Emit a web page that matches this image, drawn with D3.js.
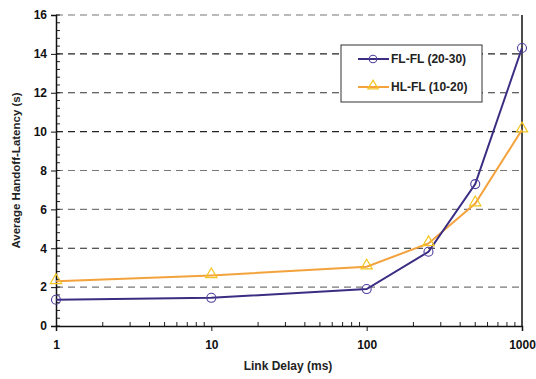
<!DOCTYPE html>
<html>
<head>
<meta charset="utf-8">
<script src="https://cdnjs.cloudflare.com/ajax/libs/d3/7.8.5/d3.min.js"></script>
<style>
  body { margin: 0; background: #fff; }
  text { font-family: "Liberation Sans", Arial, sans-serif; font-weight: bold; }
</style>
</head>
<body>
<svg id="chart" width="536" height="379"></svg>
<script>
var delays = [1, 10, 100, 250, 500, 1000];
var flfl = [1.35, 1.45, 1.9, 3.82, 7.3, 14.3];
var hlfl = [2.3, 2.6, 3.05, 4.25, 6.3, 10.1];
var seriesNames = ['FL-FL (20-30)', 'HL-FL (10-20)'];
var yTicks = [0, 2, 4, 6, 8, 10, 12, 14, 16];
var xTicks = [1, 10, 100, 1000];

var plotLeft = 56, plotRight = 522, plotTop = 15, plotBottom = 326;
var svg = d3.select('#chart');

var x = d3.scaleLog().domain([1, 1000]).range([plotLeft, plotRight]);
var y = d3.scaleLinear().domain([0, 16]).range([plotBottom, plotTop]);

// grid lines
var gridColor = { 16: '#777', 14: '#222', 12: '#333', 10: '#222', 8: '#777', 6: '#777', 4: '#222', 2: '#777' };
svg.append('g').selectAll('line')
    .data(yTicks.filter(function(d) { return d > 0; }))
    .join('line')
    .attr('x1', plotLeft).attr('x2', plotRight)
    .attr('y1', function(d) { return y(d); })
    .attr('y2', function(d) { return y(d); })
    .attr('stroke', function(d) { return gridColor[d]; })
    .attr('stroke-width', 1.2)
    .attr('stroke-dasharray', '7,5');

// y minor ticks (inward)
var yMinor = d3.range(0, 16.01, 0.4);
svg.append('g').selectAll('line')
    .data(yMinor)
    .join('line')
    .attr('x1', plotLeft).attr('x2', plotLeft + 4)
    .attr('y1', function(d) { return y(d); })
    .attr('y2', function(d) { return y(d); })
    .attr('stroke', '#222');

// x minor ticks (inward)
var xMinor = [];
[1, 10, 100].forEach(function(b) {
    for (var k = 2; k <= 9; k++) xMinor.push(b * k);
});
svg.append('g').selectAll('line')
    .data(xMinor)
    .join('line')
    .attr('x1', function(d) { return x(d); })
    .attr('x2', function(d) { return x(d); })
    .attr('y1', plotBottom).attr('y2', plotBottom - 4)
    .attr('stroke', '#222');

// axes
svg.append('g')
    .attr('transform', 'translate(' + plotLeft + ',0)')
    .call(d3.axisLeft(y).tickValues(yTicks).tickSize(5).tickPadding(4).tickFormat(d3.format('d')))
    .call(function(g) {
        g.select('.domain').attr('stroke', '#111').attr('stroke-width', 1.5);
        g.selectAll('.tick line').attr('stroke', '#111');
        g.selectAll('text').attr('font-size', 12).attr('fill', '#111')
            .style('font-family', '"Liberation Sans", Arial, sans-serif').style('font-weight', 'bold');
    });

svg.append('g')
    .attr('transform', 'translate(0,' + plotBottom + ')')
    .call(d3.axisBottom(x).tickValues(xTicks).tickSize(5).tickPadding(9).tickFormat(d3.format('d')))
    .call(function(g) {
        g.select('.domain').attr('stroke', '#111').attr('stroke-width', 1.5);
        g.selectAll('.tick line').attr('stroke', '#111');
        g.selectAll('text').attr('font-size', 12).attr('fill', '#111')
            .style('font-family', '"Liberation Sans", Arial, sans-serif').style('font-weight', 'bold');
    });

// right border
svg.append('line')
    .attr('x1', plotRight).attr('x2', plotRight)
    .attr('y1', plotTop).attr('y2', plotBottom)
    .attr('stroke', '#111').attr('stroke-width', 1.5);

// axis titles
svg.append('text')
    .attr('transform', 'translate(20,' + ((plotTop + plotBottom) / 2) + ') rotate(-90)')
    .attr('text-anchor', 'middle')
    .attr('font-size', 11.5)
    .attr('fill', '#222')
    .text('Average Handoff-Latency (s)');

svg.append('text')
    .attr('x', 288)
    .attr('y', 370)
    .attr('text-anchor', 'middle')
    .attr('font-size', 12)
    .attr('fill', '#222')
    .text('Link Delay (ms)');

// lines
var line = d3.line()
    .x(function(d) { return x(d[0]); })
    .y(function(d) { return y(d[1]); });

var flData = d3.zip(delays, flfl);
var hlData = d3.zip(delays, hlfl);

svg.append('path')
    .datum(hlData)
    .attr('d', line)
    .attr('fill', 'none')
    .attr('stroke', '#f4a23c')
    .attr('stroke-width', 2);

svg.append('path')
    .datum(flData)
    .attr('d', line)
    .attr('fill', 'none')
    .attr('stroke', '#3a2d82')
    .attr('stroke-width', 2);

var tri = d3.symbol().type(d3.symbolTriangle).size(55);

svg.append('g').selectAll('path')
    .data(hlData)
    .join('path')
    .attr('transform', function(d) { return 'translate(' + x(d[0]) + ',' + (y(d[1]) - 1) + ')'; })
    .attr('d', tri)
    .attr('fill', 'none')
    .attr('stroke', '#f2c520')
    .attr('stroke-width', 1.2);

svg.append('g').selectAll('circle')
    .data(flData)
    .join('circle')
    .attr('cx', function(d) { return x(d[0]); })
    .attr('cy', function(d) { return y(d[1]); })
    .attr('r', 4.5)
    .attr('fill', 'none')
    .attr('stroke', '#4a3e9c')
    .attr('stroke-width', 1.1);

// legend
var lg = svg.append('g');
lg.append('rect')
    .attr('x', 341).attr('y', 45)
    .attr('width', 141).attr('height', 57)
    .attr('fill', '#fff')
    .attr('stroke', '#333')
    .attr('stroke-width', 1);

var legendRows = [59, 87];
lg.append('line')
    .attr('x1', 358).attr('x2', 389)
    .attr('y1', legendRows[0]).attr('y2', legendRows[0])
    .attr('stroke', '#3a2d82').attr('stroke-width', 2);
lg.append('circle')
    .attr('cx', 373).attr('cy', legendRows[0]).attr('r', 3.8)
    .attr('fill', 'none').attr('stroke', '#4a3e9c').attr('stroke-width', 1.1);
lg.append('line')
    .attr('x1', 358).attr('x2', 389)
    .attr('y1', legendRows[1]).attr('y2', legendRows[1])
    .attr('stroke', '#f4a23c').attr('stroke-width', 2);
lg.append('path')
    .attr('transform', 'translate(373,' + (legendRows[1] - 1) + ')')
    .attr('d', d3.symbol().type(d3.symbolTriangle).size(45))
    .attr('fill', 'none').attr('stroke', '#f2c520').attr('stroke-width', 1.2);

lg.selectAll('text.leg')
    .data(seriesNames)
    .join('text')
    .attr('class', 'leg')
    .attr('x', 391)
    .attr('y', function(d, i) { return legendRows[i] + 4; })
    .attr('font-size', 12)
    .attr('fill', '#222')
    .text(function(d) { return d; });
</script>
</body>
</html>
